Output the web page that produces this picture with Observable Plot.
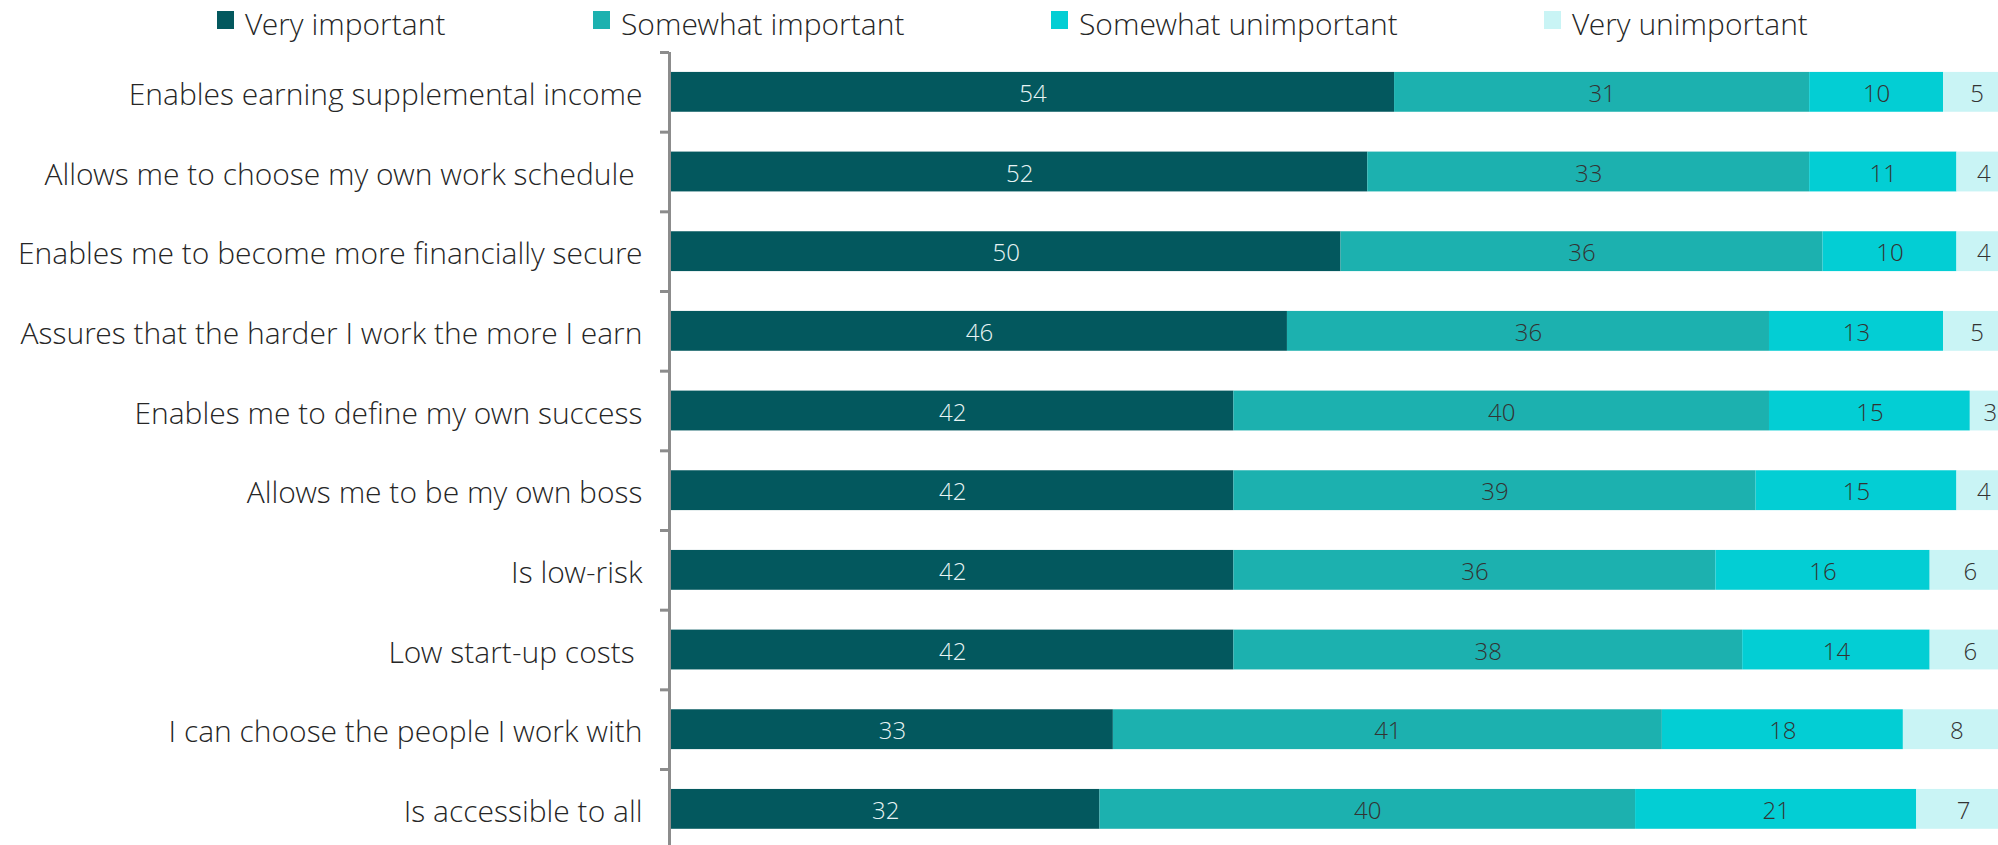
<!DOCTYPE html>
<html>
<head>
<meta charset="utf-8">
<script src="https://cdn.jsdelivr.net/npm/d3@7"></script>
<script src="https://cdn.jsdelivr.net/npm/@observablehq/plot@0.6"></script>
<style>
  html, body { margin: 0; padding: 0; background: #fff; overflow: hidden; }
  body { width: 1998px; height: 845px; position: relative; font-family: "Open Sans Light", "Open Sans", sans-serif; }
  #legend { position: relative; height: 46px; width: 1998px; }
  .item { position: absolute; top: 0; height: 46px; display: flex; align-items: center; font-size: 30px; font-weight: 300; color: #262626; white-space: nowrap; }
  .sw { width: 17px; height: 18px; margin-right: 11px; margin-top: -6px; }
  .item span.t { margin-top: 0px; }
  #chart svg { overflow: hidden; }
</style>
</head>
<body>
<div id="legend"></div>
<div id="chart"></div>
<script>
const categories = [
  "Enables earning supplemental income",
  "Allows me to choose my own work schedule ",
  "Enables me to become more financially secure",
  "Assures that the harder I work the more I earn",
  "Enables me to define my own success",
  "Allows me to be my own boss",
  "Is low-risk",
  "Low start-up costs ",
  "I can choose the people I work with",
  "Is accessible to all"
];
const seriesNames = ["Very important", "Somewhat important", "Somewhat unimportant", "Very unimportant"];
const colors = ["#03585E", "#1CB1AF", "#03CED4", "#C9F4F5"];
const veryImportant        = [54, 52, 50, 46, 42, 42, 42, 42, 33, 32];
const somewhatImportant    = [31, 33, 36, 36, 40, 39, 36, 38, 41, 40];
const somewhatUnimportant  = [10, 11, 10, 13, 15, 15, 16, 14, 18, 21];
const veryUnimportant      = [5, 4, 4, 5, 3, 4, 6, 6, 8, 7];
const legendLefts = [217, 593, 1051, 1544];

const seriesValues = [veryImportant, somewhatImportant, somewhatUnimportant, veryUnimportant];
const data = [];
categories.forEach((c, i) => {
  seriesNames.forEach((s, j) => {
    data.push({category: c, series: s, value: seriesValues[j][i]});
  });
});

// legend
const legend = document.getElementById("legend");
seriesNames.forEach((s, j) => {
  const it = document.createElement("div");
  it.className = "item";
  it.style.left = legendLefts[j] + "px";
  it.innerHTML = `<div class="sw" style="background:${colors[j]}"></div><span class="t">${s}</span>`;
  legend.appendChild(it);
});

const chart = Plot.plot({
  width: 1998,
  height: 799,
  marginLeft: 671,
  marginRight: -12,
  marginTop: 6,
  marginBottom: 0,
  style: {fontFamily: "'Open Sans Light', 'Open Sans', sans-serif", background: "#fff", overflow: "hidden"},
  x: {domain: [0, 100], axis: null},
  y: {domain: categories, range: [6, 802.7], paddingInner: 0.5, paddingOuter: 0.25, round: false, label: null},
  color: {domain: seriesNames, range: colors},
  marks: [
    Plot.barX(data, {x: "value", y: "category", fill: "series", order: seriesNames}),
    Plot.text(data, Plot.stackX({
      x: "value", y: "category", z: "series", order: seriesNames, text: "value",
      fill: d => d.series === "Very important" ? "#E8F4F4" : "#333333",
      fontSize: 24, fontWeight: 300, dy: 2
    })),
    Plot.ruleX([0], {stroke: "#8C8C8C", strokeWidth: 3, dx: -2}),
    Plot.axisY({tickSize: 9, dy: -39.85, dx: -2, text: null, stroke: "#8C8C8C", strokeWidth: 3, strokeOpacity: 1, label: null}),
    Plot.axisY({tickSize: 0, tickPadding: 29, dy: 3, fontSize: 30, fontWeight: 300, fill: "#262626", label: null, style: "white-space: pre"})
  ]
});
document.getElementById("chart").appendChild(chart);
</script>
</body>
</html>
